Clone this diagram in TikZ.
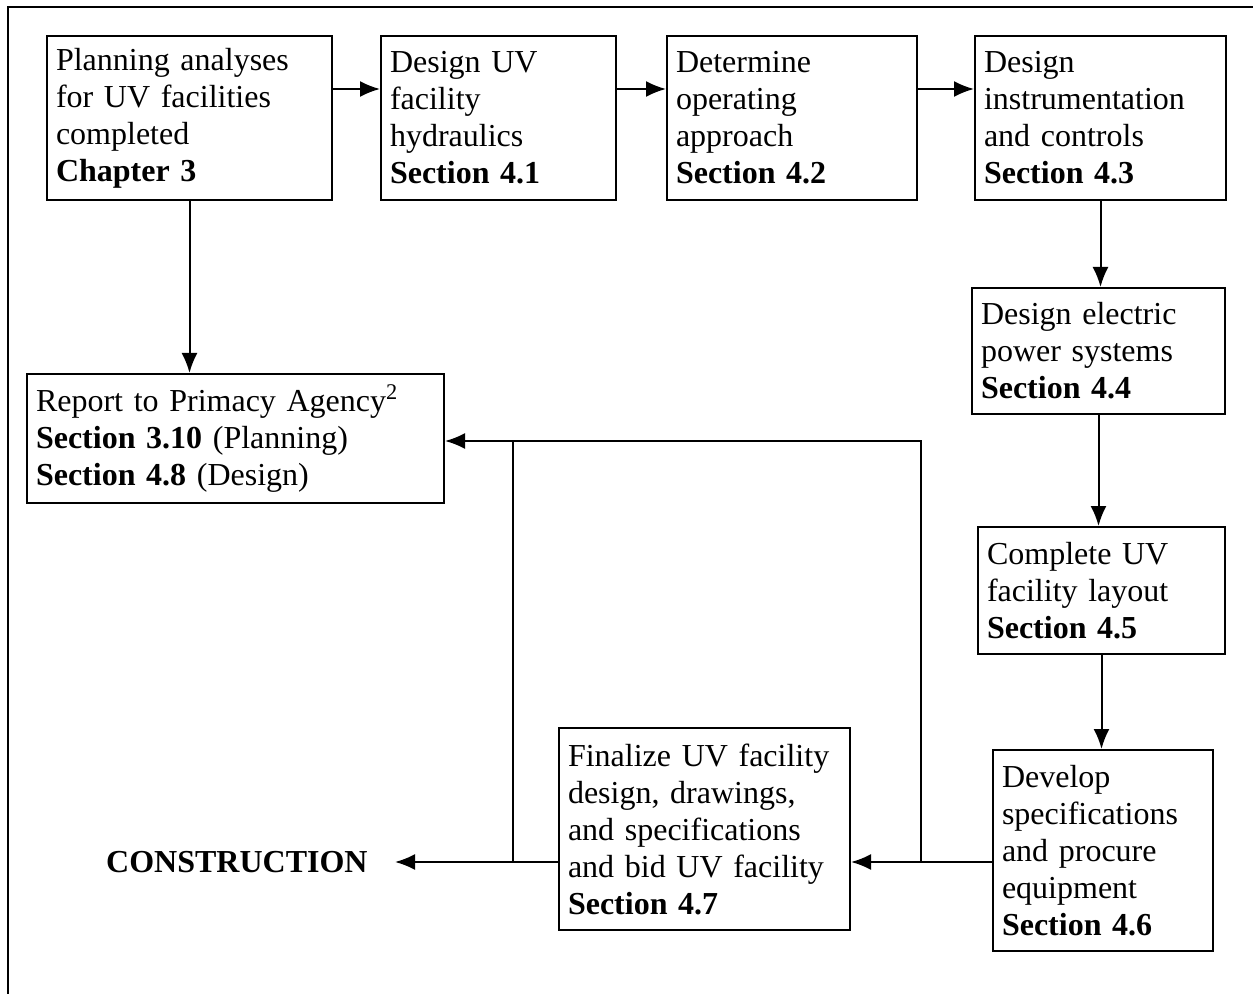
\documentclass[tikz,border=0pt]{standalone}
\usepackage{fontspec}
\setmainfont{Liberation Serif}
\usetikzlibrary{arrows.meta}

\begin{document}
\begin{tikzpicture}[x=0.5pt,y=-0.5pt,
        stepbox/.style={draw,line width=1pt,anchor=north west,align=left,inner xsep=4.5pt,inner ysep=0pt,font=\fontsize{16}{18.5}\selectfont},
        arr/.style={line width=1pt,-{Latex[length=10pt,width=8pt]}},
        link/.style={line width=1pt}]
    \useasboundingbox (0,0) rectangle (1253,994);

    % Frame
    \draw[link] (1253,7) -- (8,7) -- (8,994);

    % Top row
    \node[stepbox,text width=133.5pt,minimum height=82pt] (plan) at (46,35)
        {Planning analyses\\for UV facilities\\completed\\\textbf{Chapter 3}};
    \node[stepbox,text width=108.5pt,minimum height=82pt] (hydraulics) at (380,35)
        {Design UV\\facility\\hydraulics\\\textbf{Section 4.1}};
    \node[stepbox,text width=116pt,minimum height=82pt] (operating) at (666,35)
        {Determine\\operating\\approach\\\textbf{Section 4.2}};
    \node[stepbox,text width=116.5pt,minimum height=82pt] (controls) at (974,35)
        {Design\\instrumentation\\and controls\\\textbf{Section 4.3}};

    % Right column
    \node[stepbox,text width=117.5pt,minimum height=63pt] (power) at (971,287)
        {Design electric\\power systems\\\textbf{Section 4.4}};
    \node[stepbox,text width=114.5pt,minimum height=63.5pt] (layout) at (977,526)
        {Complete UV\\facility layout\\\textbf{Section 4.5}};
    \node[stepbox,text width=101pt,minimum height=100.5pt] (procure) at (992,749)
        {Develop\\specifications\\and procure\\equipment\\\textbf{Section 4.6}};

    % Bottom and left
    \node[stepbox,text width=136.5pt,minimum height=101pt] (finalize) at (558,727)
        {Finalize UV facility\\design, drawings,\\and specifications\\and bid UV facility\\\textbf{Section 4.7}};
    \node[stepbox,text width=199.5pt,minimum height=64.5pt] (report) at (26,373)
        {Report to Primacy Agency\textsuperscript{2}\\\textbf{Section 3.10} (Planning)\\\textbf{Section 4.8} (Design)};
    \node[anchor=east,inner xsep=13.5pt,font=\fontsize{16}{18.5}\selectfont\bfseries] (construction) at (395,862)
        {CONSTRUCTION};

    % Junctions
    \coordinate (busR) at (921,862);
    \coordinate (busL) at (513,862);
    \coordinate (topR) at (921,441);
    \coordinate (topL) at (513,441);

    % Main flow
    \draw[arr] (plan.east |- 0,89) -- (hydraulics.west |- 0,89);
    \draw[arr] (hydraulics.east |- 0,89) -- (operating.west |- 0,89);
    \draw[arr] (operating.east |- 0,89) -- (controls.west |- 0,89);
    \draw[arr] (controls.south) -- (controls.south |- power.north);
    \draw[arr] (power.south) -- (power.south |- layout.north);
    \draw[arr] (layout.south) -- (layout.south |- procure.north);
    \draw[arr] (plan.south) -- (plan.south |- report.north);

    % Return lines
    \draw[link] (procure.west |- busR) -- (busR);
    \draw[arr] (busR) -- (finalize.east |- busR);
    \draw[arr] (busR) -- (topR) -- (report.east |- topR);
    \draw[link] (finalize.west |- busL) -- (busL);
    \draw[arr] (busL) -- (construction.east);
    \draw[link] (busL) -- (topL);
\end{tikzpicture}
\end{document}
